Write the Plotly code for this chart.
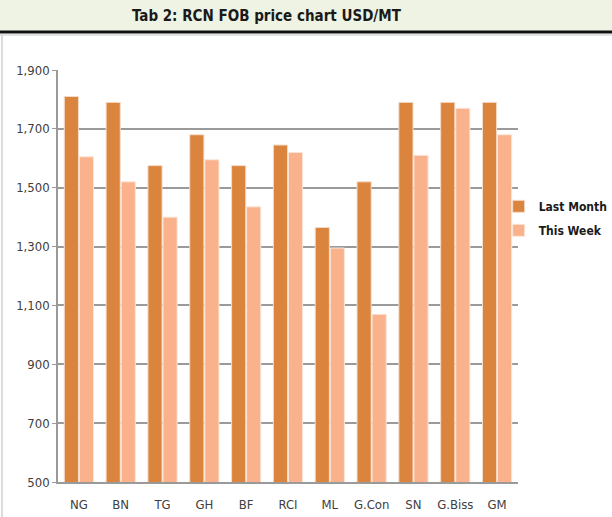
import plotly.graph_objects as go

# Values (USD/MT)
countries = ["NG", "BN", "TG", "GH", "BF", "RCI", "ML", "G.Con", "SN", "G.Biss", "GM"]
last_month = [1810, 1790, 1575, 1680, 1575, 1645, 1365, 1520, 1790, 1790, 1790]
this_week = [1605, 1520, 1400, 1595, 1435, 1620, 1295, 1070, 1610, 1770, 1680]

y_ticks = [500, 700, 900, 1100, 1300, 1500, 1700, 1900]

font_main = "DejaVu Sans Condensed, Arial, sans-serif"

fig = go.Figure()
fig.add_trace(go.Bar(
    x=countries, y=last_month, name="Last Month", legendgroup="lm",
    marker=dict(color="#DB843D", line=dict(color="#F3DCCB", width=1)),
))
fig.add_trace(go.Bar(
    x=countries, y=this_week, name="This Week", legendgroup="tw",
    marker=dict(color="#F9B28B", line=dict(color="#FBE6DA", width=1)),
))

fig.update_layout(
    width=612, height=517,
    margin=dict(l=58, r=94, t=70, b=35, autoexpand=False),
    paper_bgcolor="white", plot_bgcolor="white",
    barmode="group", bargap=0.28, bargroupgap=0.06,
    font=dict(family=font_main, size=13, color="#404040"),
    showlegend=True,
    legend=dict(
        x=0.958, y=0.64, xanchor="left", yanchor="middle",
        font=dict(size=12, color="#1A1A1A", weight="bold"),
        bgcolor="rgba(0,0,0,0)", tracegroupgap=5,
    ),
    xaxis=dict(
        showgrid=False, showline=True, linecolor="#9A9A9A", linewidth=1.5,
        ticks="", ticklabelstandoff=10,
        tickfont=dict(size=13, color="#404040"),
    ),
    yaxis=dict(
        range=[500, 1900], tickvals=y_ticks, tickformat=",",
        showgrid=True, gridcolor="#9A9A9A", gridwidth=1.5,
        showline=True, linecolor="#9A9A9A", linewidth=1.5,
        ticks="outside", ticklen=4, tickcolor="#9A9A9A",
        tickfont=dict(size=13, color="#404040"),
        zeroline=False,
    ),
    shapes=[
        # title band
        dict(type="rect", xref="paper", yref="paper",
             x0=-58 / 460, x1=1 + 94 / 460, y0=1 + 39 / 412, y1=1 + 70 / 412,
             fillcolor="#EEF3E3", line=dict(width=0), layer="below"),
        # black rule under the title
        dict(type="line", xref="paper", yref="paper",
             x0=-58 / 460, x1=1 + 94 / 460, y0=1 + 38 / 412, y1=1 + 38 / 412,
             line=dict(color="#111111", width=3)),
        dict(type="line", xref="paper", yref="paper",
             x0=-58 / 460, x1=1 + 94 / 460, y0=1 + 35 / 412, y1=1 + 35 / 412,
             line=dict(color="#C8C8C8", width=1)),
        # left frame edge
        dict(type="line", xref="paper", yref="paper",
             x0=-56 / 460, x1=-56 / 460, y0=-35 / 412, y1=1 + 35 / 412,
             line=dict(color="#D0D0D0", width=1.5)),
    ],
    annotations=[
        dict(text="<b>Tab 2: RCN FOB price chart USD/MT</b>",
             xref="paper", yref="paper", x=(267 - 58) / 460, y=1 + 54 / 412,
             xanchor="center", yanchor="middle", showarrow=False,
             font=dict(family=font_main, size=15, color="#1A1A1A")),
    ],
)

# the page body has a default 8px margin; drop it so the figure sits at 0,0
fig.write_html("out.html", config={"displayModeBar": False},
               post_script="document.body.style.margin='0';")
